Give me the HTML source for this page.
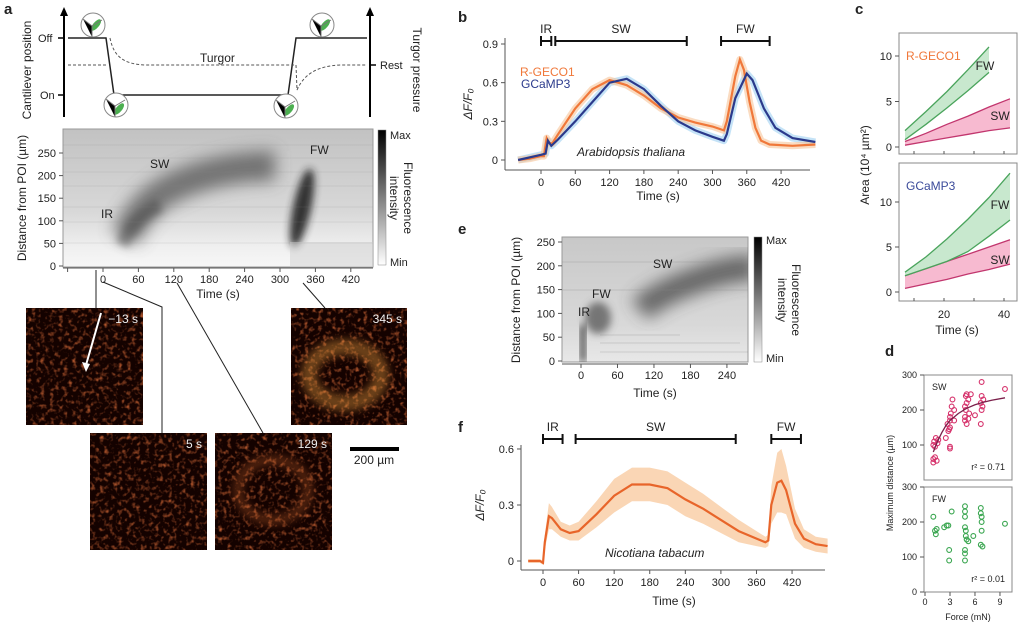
<!DOCTYPE html>
<html><head><meta charset="utf-8">
<style>
html,body{margin:0;padding:0;background:#fff;}
svg{display:block;font-family:"Liberation Sans",sans-serif;}
text{fill:#222;}
.t{font-size:11px;}
.ti{font-size:12px;}
.pl{font-size:15px;font-weight:bold;}
</style></head>
<body>
<svg id="fig" width="1035" height="628" viewBox="0 0 1035 628">
<defs>
  <filter id="blur6" x="-50%" y="-50%" width="200%" height="200%"><feGaussianBlur stdDeviation="8"/></filter>
  <filter id="blur3" x="-50%" y="-50%" width="200%" height="200%"><feGaussianBlur stdDeviation="4"/></filter>
  <filter id="micro" x="0" y="0" width="100%" height="100%">
    <feTurbulence type="fractalNoise" baseFrequency="0.22" numOctaves="2" seed="4"/>
    <feColorMatrix type="matrix" values="0 0 0 0 0.7  0 0 0 0 0.15  0 0 0 0 0.04  2.4 0 0 0 -1.2"/>
  </filter>
  <linearGradient id="cbar" x1="0" y1="0" x2="0" y2="1"><stop offset="0" stop-color="#000"/><stop offset="1" stop-color="#fff"/></linearGradient>
  <linearGradient id="hmA" x1="0" y1="0" x2="0" y2="1"><stop offset="0" stop-color="#c2c2c2"/><stop offset="0.6" stop-color="#d8d8d8"/><stop offset="0.85" stop-color="#efefef"/><stop offset="1" stop-color="#f7f7f7"/></linearGradient>
  <linearGradient id="hmE" x1="0" y1="0" x2="0" y2="1"><stop offset="0" stop-color="#c8c8c8"/><stop offset="0.7" stop-color="#d8d8d8"/><stop offset="1" stop-color="#e8e8e8"/></linearGradient>
  <clipPath id="clipA"><rect x="63" y="129" width="310" height="138"/></clipPath>
  <clipPath id="clipE"><rect x="562" y="237" width="186" height="125"/></clipPath>
</defs>

<!-- panel letters -->
<text class="pl" x="4" y="14">a</text>
<text class="pl" x="458" y="22">b</text>
<text class="pl" x="855" y="14">c</text>
<text class="pl" x="885" y="356">d</text>
<text class="pl" x="458" y="234">e</text>
<text class="pl" x="458" y="432">f</text>

<!-- PANEL A schematic -->
<g>
  <line x1="64" y1="117" x2="64" y2="14" stroke="#000" stroke-width="2"/>
  <polygon points="60,16 64,7 68,16" fill="#000"/>
  <line x1="370" y1="117" x2="370" y2="14" stroke="#000" stroke-width="2"/>
  <polygon points="366,16 370,7 374,16" fill="#000"/>
  <line x1="58" y1="38" x2="64" y2="38" stroke="#000" stroke-width="1.5"/>
  <line x1="58" y1="95" x2="64" y2="95" stroke="#000" stroke-width="1.5"/>
  <line x1="370" y1="65" x2="376" y2="65" stroke="#000" stroke-width="1.5"/>
  <text class="t" x="38" y="42">Off</text>
  <text class="t" x="40" y="99">On</text>
  <text class="t" x="380" y="69">Rest</text>
  <text class="ti" x="200" y="62">Turgor</text>
  <text class="ti" transform="translate(31,70) rotate(-90)" text-anchor="middle">Cantilever position</text>
  <text class="ti" transform="translate(413,70) rotate(90)" text-anchor="middle">Turgor pressure</text>
  <polyline points="68,38 106,38 114,95 288,95 296,38 367,38" fill="none" stroke="#222" stroke-width="1.5"/>
  <path d="M68,65 L108,65 M110,38 C114,58 125,64 145,65 L294,65 M296,65 L297,90 C305,72 320,66 340,65 L367,65" fill="none" stroke="#555" stroke-width="1" stroke-dasharray="3,2"/>
  <g fill="#fff" stroke="#888" stroke-width="1">
    <circle cx="93" cy="25" r="12"/><circle cx="116" cy="105" r="12"/><circle cx="286" cy="106" r="12"/><circle cx="322" cy="25" r="12"/>
  </g>
  <g fill="#4caf50">
    <ellipse cx="96" cy="25" rx="3" ry="7" transform="rotate(40 96 25)"/>
    <ellipse cx="119" cy="109" rx="3" ry="7" transform="rotate(40 119 109)"/>
    <ellipse cx="289" cy="110" rx="3" ry="7" transform="rotate(40 289 110)"/>
    <ellipse cx="325" cy="25" rx="3" ry="7" transform="rotate(40 325 25)"/>
  </g>
  <g stroke="#777" stroke-width="1"><path d="M83,19 L92,26 L92,37 M92,26 L102,20"/><path d="M106,99 L115,106 L115,117 M115,106 L125,100"/><path d="M276,100 L285,107 L285,118 M285,107 L295,101"/><path d="M312,19 L321,26 L321,37 M321,26 L331,20"/></g>
</g>

<!-- PANEL A heatmap -->
<g>
  <rect x="63" y="129" width="310" height="138" fill="url(#hmA)" stroke="#999"/>
  <g clip-path="url(#clipA)">
    <path d="M125,238 C140,205 160,192 185,182 C215,170 245,166 275,166" fill="none" stroke="#555" stroke-width="30" filter="url(#blur6)" opacity="0.75"/>
    <path d="M122,245 C130,228 140,215 160,205" fill="none" stroke="#444" stroke-width="14" filter="url(#blur3)" opacity="0.5"/>
    <ellipse cx="302" cy="208" rx="9" ry="40" fill="#222" filter="url(#blur3)" transform="rotate(12 302 208)" opacity="0.9"/>
    <rect x="290" y="242" width="83" height="25" fill="#d0d0d0" opacity="0.5"/>
    <g stroke="#888" stroke-width="1" opacity="0.15">
      <line x1="63" x2="373" y1="145" y2="145"/><line x1="63" x2="373" y1="158" y2="158"/><line x1="63" x2="373" y1="172" y2="172"/><line x1="63" x2="373" y1="186" y2="186"/><line x1="63" x2="373" y1="207" y2="207"/><line x1="63" x2="373" y1="222" y2="222"/><line x1="63" x2="373" y1="243" y2="243"/>
    </g>
  </g>
  <text class="ti" x="150" y="168">SW</text>
  <text class="ti" x="310" y="154">FW</text>
  <text class="ti" x="101" y="218">IR</text>
  <rect x="378" y="130" width="8" height="135" fill="url(#cbar)" stroke="#888" stroke-width="0.5"/>
  <text class="t" x="390" y="139">Max</text>
  <text class="t" x="390" y="266">Min</text>
  <text class="ti" transform="translate(404,198) rotate(90)" text-anchor="middle">Fluorescence</text>
  <text class="ti" transform="translate(390,198) rotate(90)" text-anchor="middle">intensity</text>
  <text class="ti" transform="translate(26,198) rotate(-90)" text-anchor="middle">Distance from POI (µm)</text>
  <g id="axA"></g>
  <text class="ti" x="218" y="298" text-anchor="middle">Time (s)</text>
</g>

<!-- microscope images -->
<g>
  <g stroke="#222" stroke-width="1" fill="none">
    <line x1="96" y1="270" x2="96" y2="308"/>
    <polyline points="103,282 162,307 162,433"/>
    <line x1="177" y1="283" x2="263" y2="433"/>
    <line x1="303" y1="283" x2="325" y2="308"/>
  </g>
  <rect x="26" y="308" width="117" height="117" fill="#140200"/>
  <rect x="26" y="308" width="117" height="117" filter="url(#micro)" opacity="0.85"/>
  <rect x="291" y="308" width="116" height="117" fill="#140200"/>
  <rect x="291" y="308" width="116" height="117" filter="url(#micro)" opacity="0.9"/>
  <ellipse cx="345" cy="375" rx="36" ry="28" fill="none" stroke="#f0a040" stroke-width="16" opacity="0.4" filter="url(#blur3)"/>
  <rect x="90" y="433" width="117" height="117" fill="#140200"/>
  <rect x="90" y="433" width="117" height="117" filter="url(#micro)" opacity="0.85"/>
  <rect x="215" y="433" width="117" height="117" fill="#140200"/>
  <rect x="215" y="433" width="117" height="117" filter="url(#micro)" opacity="0.85"/>
  <ellipse cx="273" cy="490" rx="35" ry="30" fill="none" stroke="#e07030" stroke-width="10" opacity="0.3" filter="url(#blur3)"/>
  <text x="138" y="323" text-anchor="end" font-size="12" style="fill:#eee">−13 s</text>
  <text x="402" y="323" text-anchor="end" font-size="12" style="fill:#eee">345 s</text>
  <text x="202" y="448" text-anchor="end" font-size="12" style="fill:#eee">5 s</text>
  <text x="327" y="448" text-anchor="end" font-size="12" style="fill:#eee">129 s</text>
  <line x1="101" y1="313" x2="86" y2="365" stroke="#fff" stroke-width="2"/>
  <polygon points="82,362 86,372 90,364" fill="#fff"/>
  <rect x="350" y="447" width="49" height="4" fill="#000"/>
  <text class="ti" x="374" y="464" text-anchor="middle">200 µm</text>
</g>

<!-- PANEL E heatmap -->
<g>
  <rect x="562" y="237" width="186" height="125" fill="url(#hmE)" stroke="#999"/>
  <g clip-path="url(#clipE)">
    <path d="M640,310 C660,292 690,282 715,274 C730,270 745,268 755,268" fill="none" stroke="#444" stroke-width="26" filter="url(#blur6)" opacity="0.75"/>
    <ellipse cx="598" cy="318" rx="13" ry="16" fill="#555" filter="url(#blur3)" opacity="0.75"/>
    <rect x="581" y="325" width="4" height="37" fill="#000" filter="url(#blur3)"/>
    <g stroke="#888" stroke-width="1.5" opacity="0.18">
      <line x1="600" x2="680" y1="335" y2="335"/><line x1="600" x2="740" y1="343" y2="343"/><line x1="600" x2="748" y1="352" y2="352"/><line x1="562" x2="748" y1="290" y2="290"/><line x1="562" x2="748" y1="262" y2="262"/>
    </g>
  </g>
  <text class="ti" x="653" y="268">SW</text>
  <text class="ti" x="592" y="298">FW</text>
  <text class="ti" x="578" y="316">IR</text>
  <rect x="754" y="237" width="8" height="125" fill="url(#cbar)" stroke="#888" stroke-width="0.5"/>
  <text class="t" x="766" y="244">Max</text>
  <text class="t" x="766" y="362">Min</text>
  <text class="ti" transform="translate(792,300) rotate(90)" text-anchor="middle">Fluorescence</text>
  <text class="ti" transform="translate(778,300) rotate(90)" text-anchor="middle">intensity</text>
  <text class="ti" transform="translate(520,300) rotate(-90)" text-anchor="middle">Distance from POI (µm)</text>
  <g id="axE"></g>
  <text class="ti" x="655" y="397" text-anchor="middle">Time (s)</text>
</g>

<g id="panelB"></g>
<g id="panelF"></g>
<g id="panelC"></g>
<g id="panelD"></g>
</svg>

<script>
// ---- Panel b data ----
const bTimes = [-40,-20,0,5,10,15,20,30,60,90,120,150,180,210,240,270,300,320,325,340,348,355,365,375,385,400,440,480];
const bRgeco = [0,0.01,0.03,0.03,0.17,0.13,0.13,0.2,0.4,0.55,0.62,0.58,0.5,0.4,0.33,0.29,0.26,0.23,0.3,0.65,0.78,0.7,0.45,0.25,0.15,0.12,0.11,0.12];
const bGcampT = [-40,0,8,12,18,30,60,90,120,150,180,210,240,270,300,320,325,340,360,370,390,410,440,480];
const bGcamp = [0,0.04,0.05,0.15,0.11,0.16,0.3,0.45,0.6,0.63,0.55,0.42,0.3,0.23,0.18,0.15,0.2,0.48,0.67,0.62,0.4,0.25,0.17,0.14];
const bXTicks = [0,60,120,180,240,300,360,420];
const bYTicks = [0,0.3,0.6,0.9];
const bYTickLabels = ["0","0.3","0.6","0.9"];
const bBrackets = [["IR",0,18],["SW",25,255],["FW",315,400]];
// ---- Panel f data ----
const fTimes = [-25,-5,0,3,10,15,30,45,60,90,120,150,180,210,240,270,300,330,360,375,380,385,395,402,410,425,440,460,480];
const fMean = [0,0,-0.01,0.1,0.24,0.23,0.17,0.15,0.16,0.25,0.35,0.41,0.41,0.39,0.33,0.28,0.22,0.16,0.12,0.1,0.11,0.3,0.42,0.43,0.38,0.2,0.12,0.09,0.08];
const fErr = [0.01,0.01,0.01,0.04,0.07,0.06,0.04,0.04,0.05,0.07,0.09,0.09,0.09,0.09,0.09,0.08,0.07,0.06,0.04,0.03,0.03,0.1,0.16,0.17,0.13,0.08,0.05,0.04,0.04];
const fXTicks = [0,60,120,180,240,300,360,420];
const fYTicks = [0,0.3,0.6];
const fYTickLabels = ["0","0.3","0.6"];
const fBrackets = [["IR",0,33],["SW",55,325],["FW",385,435]];
// ---- Panel c data ----
const cTimes = [7,14,21,28,35,42];
const rFwT = [7,14,21,28,35];
const rFwUpper = [1.8,3.9,6.1,8.5,11];
const rFwLower = [0.8,2.5,4.3,6.2,8.2];
const rSwUpper = [0.6,1.5,2.5,3.4,4.4,5.3];
const rSwLower = [0.2,0.6,1.0,1.4,1.8,2.1];
const gFwUpper = [2.2,3.9,5.9,8.1,10.5,13.2];
const gFwLower = [1.8,2.6,3.4,4.5,6.2,8.0];
const gSwUpper = [1.8,2.6,3.4,4.2,5.0,5.8];
const gSwLower = [0.4,0.9,1.4,2.0,2.5,3.1];
const cXTicks = [20,40];
const cYTicks = [0,5,10];
// ---- Panel d data ----
const swForce = [1,1,1.2,1.4,1,1.1,1.3,1.5,1.6,1.2,2.5,2.8,3,2.9,3,3,3,3,3.1,3.2,3.3,3.5,3.5,2.7,4.8,4.8,4.9,5,4.9,5,5.2,5.3,5.5,5,5.2,4.8,6,6.8,6.8,6.7,6.9,7,6.8,6.7,9.6];
const swDist = [50,60,65,55,100,110,120,105,115,95,120,140,150,145,90,95,170,180,190,210,230,200,170,160,170,180,200,220,240,245,230,190,245,160,175,210,185,280,240,220,210,230,200,160,260];
const fwForce = [1,1.2,1.3,1.4,2.3,2.6,2.8,3.2,2.9,2.9,4.8,4.8,4.8,4.8,4.9,4.9,5,5.2,4.8,4.8,4.8,5.8,6.7,6.7,6.8,6.8,6.8,6.7,6.9,9.6];
const fwDist = [215,175,165,180,185,190,190,230,120,90,245,230,215,185,175,160,150,145,120,110,90,160,240,225,215,200,175,135,130,195];
const fitForce = [1,1.5,2,2.5,3,4,5,6,7,8,9.6];
const fitDist = [80,110,135,155,170,190,205,215,222,228,235];
const dXTicks = [0,3,6,9];
const dYTicks = [0,100,200,300];

const NS = "http://www.w3.org/2000/svg";
function mk(tag, parent, attrs){ const e=document.createElementNS(NS,tag); for(const k in attrs) e.setAttribute(k,attrs[k]); parent.appendChild(e); return e; }
function txt(parent,x,y,s,size,anchor){ const t=mk("text",parent,{x:x,y:y,"font-size":size||11,"text-anchor":anchor||"middle"}); t.textContent=s; return t; }
function linePath(xs,ys,sx,sy){ return xs.map((v,i)=>(i?"L":"M")+sx(v).toFixed(1)+","+sy(ys[i]).toFixed(1)).join(""); }

// ---- heatmap axes (a, e) ----
(function(){
  const g=document.getElementById("axA");
  const sx=t=>103+t*0.59, sy=d=>266-d*0.452;
  mk("line",g,{x1:63,y1:268,x2:373,y2:268,stroke:"#555"});
  [-60,0,60,120,180,240,300,360,420].forEach(t=>{ mk("line",g,{x1:sx(t),y1:268,x2:sx(t),y2:272,stroke:"#555"}); if(t>=0){const l=txt(g,sx(t),283,String(t),11);
    
    }});
  [0,50,100,150,200,250].forEach(d=>{ mk("line",g,{x1:59,y1:sy(d),x2:63,y2:sy(d),stroke:"#555"}); const l=txt(g,56,sy(d)+4,String(d),11,"end");
    
    });
  const ge=document.getElementById("axE");
  const ex=t=>581+t*0.608, ey=d=>361-d*0.476;
  mk("line",ge,{x1:562,y1:364,x2:748,y2:364,stroke:"#555"});
  [0,60,120,180,240].forEach(t=>{ mk("line",ge,{x1:ex(t),y1:364,x2:ex(t),y2:368,stroke:"#555"}); const l=txt(ge,ex(t),379,String(t),11);
    
    });
  [0,50,100,150,200,250].forEach(d=>{ mk("line",ge,{x1:558,y1:ey(d),x2:562,y2:ey(d),stroke:"#555"}); const l=txt(ge,555,ey(d)+4,String(d),11,"end");
    
    });
})();

// ---- line chart generic ----
function lineChart(g, o){
  const sx=t=>o.x0+t*o.kx, sy=v=>o.y0-v*o.ky;
  mk("line",g,{x1:o.left,y1:o.bottom,x2:o.right,y2:o.bottom,stroke:"#555"});
  mk("line",g,{x1:o.left,y1:o.bottom,x2:o.left,y2:o.top,stroke:"#555"});
  o.xt.forEach(t=>{ mk("line",g,{x1:sx(t),y1:o.bottom,x2:sx(t),y2:o.bottom+4,stroke:"#555"}); const l=txt(g,sx(t),o.bottom+16,String(t),11);
    
    });
  o.yt.forEach((v,i)=>{ mk("line",g,{x1:o.left-4,y1:sy(v),x2:o.left,y2:sy(v),stroke:"#555"}); const l=txt(g,o.left-7,sy(v)+4,o.ytl[i],11,"end");
    
    });
  o.br.forEach(b=>{ const x1=sx(b[1]),x2=sx(b[2]);
    const p=mk("path",g,{d:`M${x1},${o.by-5}V${o.by+5}M${x1},${o.by}H${x2}M${x2},${o.by-5}V${o.by+5}`,stroke:"#111","stroke-width":2,fill:"none"});
    
    
    txt(g,(x1+x2)/2,o.by-8,b[0],12); });
  return {sx,sy};
}

// ---- Panel b ----
(function(){
  const g=document.getElementById("panelB");
  const {sx,sy}=lineChart(g,{x0:541,kx:0.5716,y0:160,ky:128.9,left:505,right:810,top:38,bottom:170,xt:bXTicks,yt:bYTicks,ytl:bYTickLabels,br:bBrackets,by:41});
  const bandB=mk("path",g,{d:linePath(bGcampT,bGcamp,sx,sy),fill:"none",stroke:"#9fd0f2","stroke-width":7,"stroke-linejoin":"round",opacity:0.6});
  
  
  const bandR=mk("path",g,{d:linePath(bTimes,bRgeco,sx,sy),fill:"none",stroke:"#f7c49a","stroke-width":7,"stroke-linejoin":"round",opacity:0.6});
  
  
  const lr=mk("path",g,{d:linePath(bTimes,bRgeco,sx,sy),fill:"none",stroke:"#f0783a","stroke-width":2.2});
  
  
  const lb=mk("path",g,{d:linePath(bGcampT,bGcamp,sx,sy),fill:"none",stroke:"#2b3a8c","stroke-width":2.2});
  
  
  const t1=txt(g,520,76,"R-GECO1",12,"start"); t1.setAttribute("style","fill:#f0783a");
  
  
  const t2=txt(g,521,88,"GCaMP3",12,"start"); t2.setAttribute("style","fill:#2b3a8c");
  
  
  const sp=txt(g,577,156,"Arabidopsis thaliana",12,"start"); sp.setAttribute("font-style","italic");
  txt(g,658,200,"Time (s)",12);
  const yl=mk("text",g,{transform:"translate(472,104) rotate(-90)","text-anchor":"middle","font-size":12,"font-style":"italic"}); yl.textContent="ΔF/F₀";
  
  
})();

// ---- Panel f ----
(function(){
  const g=document.getElementById("panelF");
  const {sx,sy}=lineChart(g,{x0:543,kx:0.593,y0:561,ky:186.7,left:521,right:825,top:445,bottom:570,xt:fXTicks,yt:fYTicks,ytl:fYTickLabels,br:fBrackets,by:439});
  const up=fTimes.map((t,i)=>sx(t).toFixed(1)+","+sy(fMean[i]+fErr[i]).toFixed(1));
  const dn=fTimes.map((t,i)=>sx(t).toFixed(1)+","+sy(fMean[i]-fErr[i]).toFixed(1)).reverse();
  const band=mk("polygon",g,{points:up.concat(dn).join(" "),fill:"#f9cfa8",opacity:0.85});
  
  
  const l=mk("path",g,{d:linePath(fTimes,fMean,sx,sy),fill:"none",stroke:"#e8652a","stroke-width":2.2});
  
  
  const sp=txt(g,605,557,"Nicotiana tabacum",12,"start"); sp.setAttribute("font-style","italic");
  txt(g,674,605,"Time (s)",12);
  const yl=mk("text",g,{transform:"translate(484,505) rotate(-90)","text-anchor":"middle","font-size":12,"font-style":"italic"}); yl.textContent="ΔF/F₀";
  
  
})();

// ---- Panel c ----
(function(){
  const g=document.getElementById("panelC");
  const sx=t=>884+3*t;
  function box(top,bottom,y0,k,swU,swL,fwT,fwU,fwL,lab,labCol,name){
    const sy=v=>y0-v*k;
    const r=mk("rect",g,{x:899,y:top,width:118,height:bottom-top,fill:"none",stroke:"#888"});
    
    
    cYTicks.forEach(v=>{ mk("line",g,{x1:895,y1:sy(v),x2:899,y2:sy(v),stroke:"#555"}); txt(g,892,sy(v)+4,String(v),11,"end"); });
    [10,20,30,40].forEach(t=>mk("line",g,{x1:sx(t),y1:bottom,x2:sx(t),y2:bottom-3,stroke:"#555"}));
    function area(ts,U,L,fill,stroke,nm){
      const up=ts.map((t,i)=>sx(t)+","+sy(U[i])), dn=ts.map((t,i)=>sx(t)+","+sy(L[i])).reverse();
      const p=mk("polygon",g,{points:up.concat(dn).join(" "),fill:fill,opacity:0.75});
      
      
      mk("path",g,{d:linePath(ts,U,sx,sy),fill:"none",stroke:stroke,"stroke-width":1.3});
      mk("path",g,{d:linePath(ts,L,sx,sy),fill:"none",stroke:stroke,"stroke-width":1.3});
    }
    area(cTimes,swU,swL,"#f4a3c0","#c2366e",name+'-sw-area');
    area(fwT,fwU,fwL,"#b6e0bd","#4aa45c",name+'-fw-area');
    const l=txt(g,906,top+27,lab,12,"start"); l.setAttribute("style","fill:"+labCol);
    return sy;
  }
  box(33,154,147,9.1,rSwUpper,rSwLower,rFwT,rFwUpper,rFwLower,"R-GECO1","#f0783a","rgeco1-area");
  txt(g,985,70,"FW",12); txt(g,1000,120,"SW",12);
  box(163,301,292,9.0,gSwUpper,gSwLower,cTimes,gFwUpper,gFwLower,"GCaMP3","#3a4a9a","gcamp3-area");
  txt(g,1000,209,"FW",12); txt(g,1000,264,"SW",12);
  cXTicks.forEach(t=>{ const l=txt(g,sx(t),318,String(t),11);
    
    });
  txt(g,957,334,"Time (s)",12);
  const yl=mk("text",g,{transform:"translate(869,165) rotate(-90)","text-anchor":"middle","font-size":12}); yl.textContent="Area (10⁴ µm²)";
  
  
})();

// ---- Panel d ----
(function(){
  const g=document.getElementById("panelD");
  const sx=f=>925+8.33*f;
  function box(top,bottom,F,D,col,lab,r2,name,fit){
    const sy=v=>bottom-0.35*v;
    const r=mk("rect",g,{x:924,y:top,width:88,height:bottom-top,fill:"none",stroke:"#888"});
    
    
    dYTicks.forEach(v=>{ if(v===0 && top<400) return; mk("line",g,{x1:920,y1:sy(v),x2:924,y2:sy(v),stroke:"#555"}); txt(g,917,sy(v)+3,String(v),9,"end"); });
    F.forEach((f,i)=>{ const c=mk("circle",g,{cx:sx(f),cy:sy(D[i]),r:2.4,fill:"none",stroke:col,"stroke-width":1.1});
      
       });
    if(fit){ const p=mk("path",g,{d:linePath(fitForce,fitDist,sx,sy),fill:"none",stroke:"#7a1f4a","stroke-width":1.3});
      
       }
    txt(g,932,top+15,lab,9,"start");
    txt(g,1005,bottom-10,r2,9,"end");
  }
  box(375,480,swForce,swDist,"#d6336c","SW","r² = 0.71","sw-scatter",true);
  box(487,592,fwForce,fwDist,"#3aa650","FW","r² = 0.01","fw-scatter",false);
  dXTicks.forEach(f=>{ mk("line",g,{x1:sx(f),y1:592,x2:sx(f),y2:596,stroke:"#555"}); const l=txt(g,sx(f),605,String(f),9);
    
    });
  txt(g,968,620,"Force (mN)",9);
  const yl=mk("text",g,{transform:"translate(893,483) rotate(-90)","text-anchor":"middle","font-size":9}); yl.textContent="Maximum distance (µm)";
  
  
})();
</script>
</body></html>
